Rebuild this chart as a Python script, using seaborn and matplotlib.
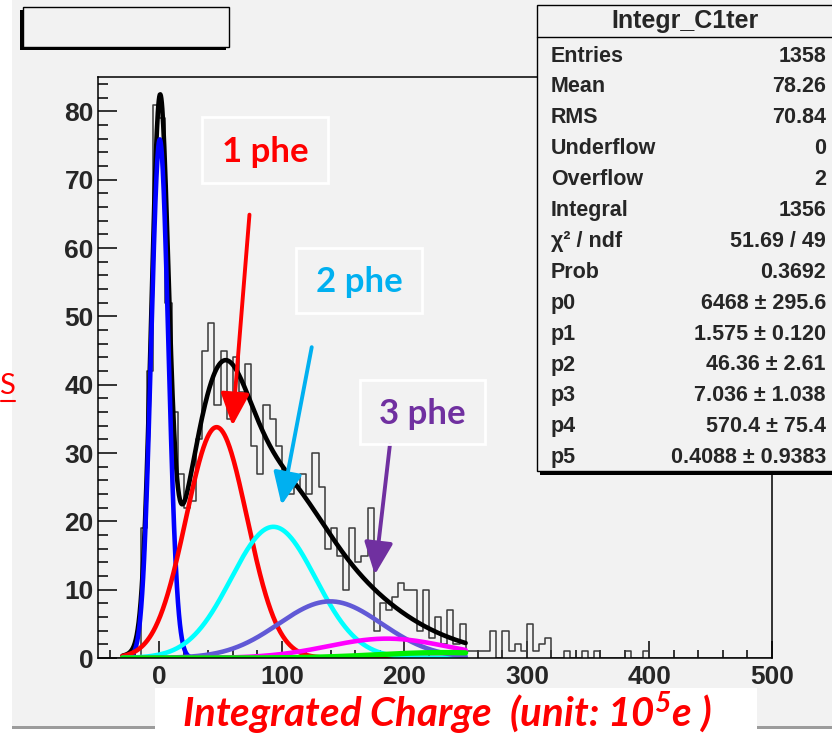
import numpy as np
import pandas as pd
import matplotlib
matplotlib.use("Agg")
import matplotlib.pyplot as plt
import seaborn as sns
from matplotlib.patches import Rectangle
from matplotlib.lines import Line2D
from matplotlib.ticker import MultipleLocator

# ---------------- data ----------------
# Integrated charge histogram: 5-unit bins starting at -50
bin_start = -50
bin_width = 5
counts = [
    0, 0, 0, 0, 0, 0, 0, 19, 42, 81,          # -50 .. 0
    79, 52, 36, 27, 22, 23, 32, 45, 49, 37,   # 0 .. 50
    45, 35, 44, 39, 43, 31, 27, 37, 35, 31,   # 50 .. 100
    24, 24, 25, 27, 24, 30, 25, 16, 19, 15,   # 100 .. 150
    10, 19, 14, 15, 22, 4, 8, 7, 9, 11,       # 150 .. 200
    10, 10, 4, 10, 3, 6, 2, 7, 2, 5,          # 200 .. 250
    1, 1, 1, 1, 4, 0, 4, 1, 2, 1,             # 250 .. 300
    5, 1, 2, 3, 0, 0, 1, 0, 0, 1,             # 300 .. 350
    0, 1, 0, 0, 0, 0, 1, 0, 0, 1,             # 350 .. 400
    0, 0, 0, 0, 0, 0, 0, 0, 0, 0,             # 400 .. 450
    0, 0, 0, 0, 0, 0, 0, 0, 0, 0,             # 450 .. 500
]

# Fit parameters (multi-photoelectron Poisson x Gauss model)
fit_params = [6468.0, 1.575, 46.36, 7.036, 570.4, 0.4088]
fit_range = [-30, 250]
n_pe_colors = ["#0000ff", "#ff0000", "#00ffff", "#6159d6", "#ff00ff", "#00ee00"]

stat_title = "Integr_C1ter"
stat_labels = ["Entries", "Mean", "RMS", "Underflow", "Overflow", "Integral",
               "\u03c7\u00b2 / ndf", "Prob", "p0", "p1", "p2", "p3", "p4", "p5"]
stat_values = ["1358", "78.26", "70.84", "0", "2", "1356", "51.69 / 49",
               "0.3692", "6468 \u00b1 295.6", "1.575 \u00b1 0.120",
               "46.36 \u00b1 2.61", "7.036 \u00b1 1.038", "570.4 \u00b1 75.4",
               "0.4088 \u00b1 0.9383"]

x_ticks = [0, 100, 200, 300, 400, 500]
y_ticks = [0, 10, 20, 30, 40, 50, 60, 70, 80]

# ---------------- derived tables ----------------
edges = [bin_start + bin_width * i for i in range(len(counts) + 1)]
centers = [e + bin_width / 2 for e in edges[:-1]]
hist_df = pd.DataFrame({"charge": centers, "entries": counts})

p0, p1, p2, p3, p4, p5 = fit_params
xg = np.linspace(fit_range[0], fit_range[1], 700)


def pe_term(n, x):
    pois = np.exp(-p1) * p1 ** n / float(np.prod(np.arange(1, n + 1)))
    sig = np.sqrt(p3 ** 2 + n * p4)
    mu = p5 + n * p2
    return p0 * pois * np.exp(-0.5 * ((x - mu) / sig) ** 2) / (sig * np.sqrt(2 * np.pi))


terms = [pe_term(n, xg) for n in range(len(n_pe_colors))]
total = np.sum(terms, axis=0)

# ---------------- figure ----------------
sns.set_theme(style="ticks")
plt.rcParams["font.family"] = ["Liberation Sans", "DejaVu Sans"]
plt.rcParams["mathtext.fontset"] = "custom"
plt.rcParams["mathtext.rm"] = "Lato:italic:bold"
plt.rcParams["mathtext.it"] = "Lato:italic:bold"

W, H = 832, 739
fig = plt.figure(figsize=(W / 100, H / 100), dpi=100, facecolor="white")


def fx(px):
    return px / W


def fy(py):
    return 1 - py / H


def fig_rect(x0, y0, x1, y1, **kw):
    r = Rectangle((fx(x0), fy(y1)), fx(x1) - fx(x0), fy(y0) - fy(y1),
                  transform=fig.transFigure, **kw)
    fig.add_artist(r)
    return r


CANVAS = "#f2f2f2"
fig_rect(12, 0, 832, 726, facecolor=CANVAS, edgecolor="none", zorder=-5)
fig_rect(12, 726, 832, 729, facecolor="#9c9c9c", edgecolor="none", zorder=-5)

ax = fig.add_axes([fx(98), fy(658), fx(772) - fx(98), fy(77) - fy(658)])
ax.set_facecolor(CANVAS)

sns.histplot(data=hist_df, x="charge", weights="entries", bins=edges,
             element="step", fill=False, color="#3a3a3a", linewidth=1.1, ax=ax)

sns.lineplot(x=xg, y=total, color="black", linewidth=3.3, estimator=None,
             sort=False, ax=ax)
for n, c in enumerate(n_pe_colors):
    sns.lineplot(x=xg, y=terms[n], color=c, linewidth=3.3 if n < 5 else 3.8,
                 estimator=None, sort=False, ax=ax)

ax.set_xlim(-50, 500)
ax.set_ylim(0, 1.05 * max(counts))
ax.set_xlabel("")
ax.set_ylabel("")
ax.set_xticks(x_ticks)
ax.set_yticks(y_ticks)
ax.xaxis.set_minor_locator(MultipleLocator(20))
ax.yaxis.set_minor_locator(MultipleLocator(2))
ax.tick_params(axis="both", which="both", direction="in", color="black",
               width=1.1, labelsize=19)
ax.tick_params(axis="y", which="major", length=14, pad=3)
ax.tick_params(axis="y", which="minor", length=7)
ax.tick_params(axis="x", which="major", length=12, pad=5)
ax.tick_params(axis="x", which="minor", length=6)
for lab in ax.get_xticklabels() + ax.get_yticklabels():
    lab.set_fontweight("bold")
for s in ax.spines.values():
    s.set_color("black")
    s.set_linewidth(1.1)

# arrows pointing at the photoelectron peaks
arrow_specs = [((59.7, 34.0), (73.6, 64.9), "#ff0000"),
               ((99.8, 22.4), (124.4, 45.5), "#00b0f0"),
               ((175.9, 12.2), (188.2, 31.2), "#7030a0")]
for head, tail, c in arrow_specs:
    ax.annotate("", xy=head, xytext=tail,
                arrowprops=dict(arrowstyle="-|>,head_length=0.9,head_width=0.4",
                                color=c, lw=2.8, mutation_scale=22,
                                shrinkA=0, shrinkB=0))

# peak labels
peak_labels = [("1 phe", "#ff0000", (202, 117, 328, 183)),
               ("2 phe", "#00b0f0", (296, 248, 422, 313)),
               ("3 phe", "#7030a0", (360, 380, 485, 444))]
for txt, c, (x0, y0, x1, y1) in peak_labels:
    fig_rect(x0, y0, x1, y1, facecolor="none", edgecolor="white", lw=2, zorder=6)
    fig.text(fx((x0 + x1) / 2), fy((y0 + y1) / 2 + 2), txt, color=c,
             family=["Lato", "DejaVu Sans"], fontweight="bold", fontsize=25,
             ha="center", va="center", zorder=7)

# empty title pave with shadow
fig_rect(20, 10, 23, 50, facecolor="black", edgecolor="none", zorder=6)
fig_rect(20, 47, 226, 50, facecolor="black", edgecolor="none", zorder=6)
fig_rect(23, 7, 229, 47, facecolor=CANVAS, edgecolor="black", lw=1.0, zorder=6)

# statistics box
fig_rect(540, 471, 832, 475, facecolor="black", edgecolor="none", zorder=6)
fig_rect(537, 5, 834, 471, facecolor=CANVAS, edgecolor="black", lw=1.0, zorder=6)
fig.add_artist(Line2D([fx(537), fx(832)], [fy(37), fy(37)], color="black",
                      lw=1.0, transform=fig.transFigure, zorder=7))
fig.text(fx(685), fy(21), stat_title, fontsize=18, fontweight="bold",
         ha="center", va="center", zorder=7)
row_y0, row_dy = 56, 30.9
for i, (lab, val) in enumerate(zip(stat_labels, stat_values)):
    yy = fy(row_y0 + i * row_dy)
    fig.text(fx(551), yy, lab, fontsize=15.5, fontweight="bold", ha="left",
             va="center", zorder=7)
    fig.text(fx(826), yy, val, fontsize=15.5, fontweight="bold", ha="right",
             va="center", zorder=7)

# axis titles
fig.text(fx(15), fy(386), "S", color="#ff0000", family=["Lato", "DejaVu Sans"],
         fontsize=21, ha="right", va="center", zorder=7)
fig.add_artist(Line2D([fx(1), fx(15)], [fy(401), fy(401)], color="#ff0000",
                      lw=1.5, transform=fig.transFigure, zorder=7))

fig_rect(155, 688, 757, 740, facecolor="white", edgecolor="none", zorder=6)
fig.text(fx(447), fy(727), "Integrated Charge  (unit: 10$^{5}$e )",
         color="#ff0000", family=["Lato", "DejaVu Sans"], style="italic",
         fontweight="bold", fontsize=29, ha="center", va="baseline", zorder=7)

fig.savefig("out.png", dpi=100, facecolor="white")
